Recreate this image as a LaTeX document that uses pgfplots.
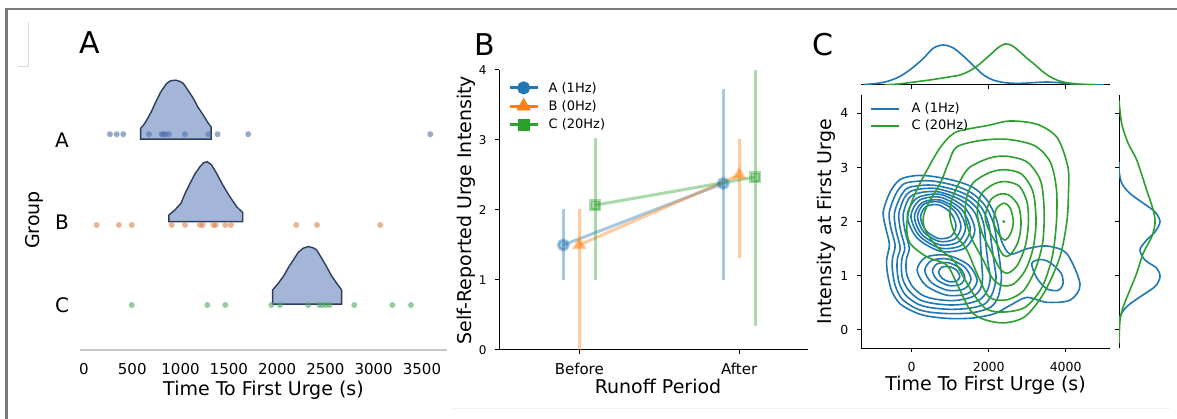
\documentclass[border=0pt]{standalone}
\usepackage{fontspec}
\setmainfont{DejaVu Sans}
\usepackage{pgfplots}
\pgfplotsset{compat=1.18}

\definecolor{tabblue}{HTML}{1F77B4}
\definecolor{taborange}{HTML}{FF7F0E}
\definecolor{tabgreen}{HTML}{2CA02C}
\definecolor{sbblue}{HTML}{4C72B0}
\definecolor{sborange}{HTML}{DD8452}
\definecolor{sbgreen}{HTML}{55A868}
\definecolor{violinfill}{HTML}{A3B6D8}
\definecolor{violinedge}{HTML}{2E3D5C}
\definecolor{framegray}{HTML}{7A7A7A}

\tikzset{lbl/.style={font=\fontsize{19}{23}\selectfont}}
\pgfplotsset{
  panel/.style={scale only axis, anchor=south west, axis line style={-},
    scaled ticks=false,
    /pgf/number format/1000 sep={}, /pgf/number format/assume math mode=true},
  cb/.style={tabblue, line width=1.6pt, smooth cycle, forget plot, mark=none},
  cg/.style={tabgreen, line width=1.6pt, smooth cycle, forget plot, mark=none},
  dots/.style={only marks, mark=*, mark size=3pt, color=#1,
    mark options={draw opacity=0, fill=#1, fill opacity=0.6}},
  violin/.style={draw=violinedge, fill=violinfill, line width=1.4pt},
}

\begin{document}
\begin{tikzpicture}
\useasboundingbox (0pt,0pt) rectangle (1177pt,419pt);
\fill[white] (0pt,0pt) rectangle (1177pt,419pt);

% ---------------- panel A
\begin{axis}[panel, at={(80pt,69pt)}, width=367pt, height=260pt,
  xmin=-41, xmax=3759, ymin=-0.545, ymax=2.606, clip=false,
  axis x line*=bottom, axis y line*=left,
  x axis line style={black!22, line width=1.3pt},
  y axis line style={draw=none},
  major tick length=0pt,
  xtick={0,500,...,3500}, ytick={0,1,2}, yticklabels={C,B,A},
  xticklabel style={font=\fontsize{15}{18}\selectfont, anchor=center, yshift=-19pt},
  yticklabel style={font=\fontsize{20}{24}\selectfont, anchor=center, xshift=-18pt},
  xlabel={Time To First Urge (s)}, ylabel={Group},
  xlabel style={lbl, at={(axis description cs:0.5,-0.1538)}, anchor=center},
  ylabel style={lbl, at={(axis description cs:-0.1240,0.5)}, anchor=center},
]
\addplot[violin] coordinates {(587,2.01) (587,2.14) (620,2.186) (649,2.24) (700,2.349) (752,2.483) (800,2.592) (856,2.685) (900,2.719) (953,2.725) (1000,2.707) (1029,2.685) (1080,2.598) (1133,2.503) (1180,2.398) (1236,2.301) (1280,2.216) (1316,2.159) (1316,2.01)} -- cycle;
\addplot[violin] coordinates {(880,1.01) (880,1.091) (940,1.15) (1004,1.232) (1050,1.36) (1098,1.474) (1150,1.59) (1201,1.677) (1240,1.725) (1277,1.737) (1320,1.70) (1374,1.595) (1430,1.47) (1478,1.374) (1530,1.28) (1581,1.192) (1644,1.119) (1644,1.01)} -- cycle;
\addplot[violin] coordinates {(1954,0.01) (1954,0.183) (2010,0.26) (2064,0.345) (2120,0.46) (2168,0.547) (2220,0.64) (2271,0.689) (2323,0.708) (2370,0.695) (2409,0.668) (2460,0.57) (2512,0.466) (2560,0.36) (2616,0.265) (2668,0.183) (2668,0.01)} -- cycle;
\addplot[dots=sbblue] coordinates {(269,2.07) (339,2.07) (407,2.07) (673,2.07) (805,2.07) (821,2.07) (846,2.07) (880,2.07) (1046,2.07) (1287,2.07) (1384,2.07) (1701,2.07) (3586,2.07)};
\addplot[dots=sborange] coordinates {(131,0.97) (362,0.97) (494,0.97) (908,0.97) (1046,0.97) (1201,0.97) (1229,0.97) (1339,0.97) (1364,0.97) (1463,0.97) (1522,0.97) (2198,0.97) (2413,0.97) (3068,0.97)};
\addplot[dots=sbgreen] coordinates {(494,0) (1277,0) (1463,0) (1940,0) (2030,0) (2323,0) (2437,0) (2468,0) (2506,0) (2544,0) (2799,0) (3193,0) (3386,0)};
\end{axis}

% ---------------- panel B
\begin{axis}[panel, at={(499.3pt,69pt)}, width=308.7pt, height=280pt,
  xmin=-0.5, xmax=1.43, ymin=0, ymax=4, clip=false,
  axis x line*=bottom, axis y line*=left, axis line style={line width=1pt},
  tick align=outside, major tick length=4pt, tick style={black, line width=1pt},
  xtick={0,1}, xticklabels={Before,After}, ytick={0,1,2,3,4},
  xticklabel style={font=\fontsize{15}{18}\selectfont, anchor=center, yshift=-15pt},
  yticklabel style={font=\fontsize{12}{14}\selectfont, anchor=center, xshift=-12.6pt},
  xlabel={Runoff Period}, ylabel={Self-Reported Urge Intensity},
  xlabel style={lbl, at={(axis description cs:0.514,-0.131)}, anchor=center},
  ylabel style={lbl, at={(axis description cs:-0.1056,0.5)}, anchor=center},
  legend style={draw=none, fill=none, at={(rel axis cs:0.028,0.9625)}, anchor=north west,
    font=\fontsize{13}{15}\selectfont, row sep=4pt, inner sep=0pt, nodes={inner sep=1.5pt}},
  legend cell align=left,
  legend image code/.code={\draw[mark repeat=2,mark phase=2,#1] plot coordinates {(0pt,0pt) (14pt,0pt) (28pt,0pt)};},
  legend image post style={opacity=1},
  /tikz/every odd column/.append style={column sep=8pt},
]
\addplot[tabblue, line width=3pt, opacity=0.4, mark=*, mark size=5pt,
  error bars/.cd, y dir=both, y explicit, error mark=none,
  error bar style={line width=3pt, tabblue, opacity=0.4}]
  coordinates {(-0.1,1.5) += (0,0.52) -= (0,0.5) (0.9,2.38) += (0,1.35) -= (0,1.38)};
\addlegendentry{A (1Hz)}
\addplot[taborange, line width=3pt, opacity=0.4, mark=triangle*, mark size=5.5pt,
  error bars/.cd, y dir=both, y explicit, error mark=none,
  error bar style={line width=3pt, taborange, opacity=0.4}]
  coordinates {(0,1.5) += (0,0.52) -= (0,1.5) (1,2.5) += (0,0.52) -= (0,1.19)};
\addlegendentry{B (0Hz)}
\addplot[tabgreen, line width=3pt, opacity=0.4, mark=square*, mark size=4.5pt,
  error bars/.cd, y dir=both, y explicit, error mark=none,
  error bar style={line width=3pt, tabgreen, opacity=0.4}]
  coordinates {(0.1,2.07) += (0,0.96) -= (0,1.07) (1.1,2.47) += (0,1.53) -= (0,2.13)};
\addlegendentry{C (20Hz)}
\end{axis}

% ---------------- panel C, joint plot
\begin{axis}[panel, at={(861pt,70.7pt)}, width=249pt, height=253.3pt,
  xmin=-1317, xmax=5151, ymin=-0.34, ymax=4.34,
  axis x line*=bottom, axis y line*=left, axis line style={line width=1pt},
  tick align=outside, major tick length=4pt, tick style={black, line width=1pt},
  xtick={0,2000,4000}, ytick={0,1,2,3,4},
  xticklabel style={font=\fontsize{12.5}{15}\selectfont, anchor=center, yshift=-15pt},
  yticklabel style={font=\fontsize{12.5}{15}\selectfont, anchor=center, xshift=-12.7pt},
  xlabel={Time To First Urge (s)}, ylabel={Intensity at First Urge},
  xlabel style={lbl, at={(axis description cs:0.5,-0.1449)}, anchor=center},
  ylabel style={lbl, at={(axis description cs:-0.1378,0.5)}, anchor=center},
  legend style={draw=none, fill=none, at={(rel axis cs:0.036,0.9755)}, anchor=north west,
    font=\fontsize{13}{15}\selectfont, row sep=2.7pt, inner sep=0pt, nodes={inner sep=1.5pt}},
  legend cell align=left,
  legend image code/.code={\draw[#1] (0pt,0pt) -- (28pt,0pt);},
  /tikz/every odd column/.append style={column sep=10pt},
]
\addlegendimage{tabblue, line width=2pt}
\addlegendentry{A (1Hz)}
\addlegendimage{tabgreen, line width=2pt}
\addlegendentry{C (20Hz)}
% group A density contours
\addplot[cb] coordinates {(-740,2.18) (-560,2.55) (-300,2.78) (100,2.85) (500,2.84) (1100,2.76) (1600,2.63) (1950,2.4) (2200,2.05) (2330,1.65) (2555,1.40) (3000,1.50) (3507,1.55) (4027,1.41) (4373,0.84) (4113,0.55) (3507,0.51) (2988,0.60) (2550,0.45) (2150,0.30) (1600,0.22) (1000,0.21) (450,0.25) (100,0.32) (-300,0.48) (-520,0.72) (-630,1.05) (-650,1.30) (-580,1.58) (-680,1.9)};
\addplot[cb] coordinates {(3118,1.23) (3350,1.30) (3600,1.24) (3880,1.05) (3930,0.85) (3800,0.73) (3507,0.76) (3250,0.96)};
\addplot[cb] coordinates {(-585,2.16) (-420,2.5) (-200,2.70) (200,2.75) (550,2.75) (1100,2.67) (1560,2.53) (1900,2.3) (2120,1.98) (2230,1.55) (2300,1.2) (2330,0.95) (2250,0.62) (2050,0.42) (1600,0.32) (1000,0.30) (450,0.33) (100,0.40) (-250,0.57) (-430,0.82) (-500,1.1) (-500,1.32) (-430,1.56) (-540,1.88)};
\addplot[cb] coordinates {(-450,2.15) (-300,2.45) (-110,2.62) (250,2.67) (600,2.67) (1100,2.59) (1520,2.46) (1820,2.25) (2000,1.95) (2080,1.55) (2150,1.2) (2190,0.95) (2100,0.68) (1900,0.48) (1500,0.40) (1000,0.38) (500,0.41) (150,0.48) (-170,0.65) (-330,0.88) (-380,1.12) (-370,1.32) (-300,1.52) (-410,1.85)};
\addplot[cb] coordinates {(-335,2.14) (-200,2.43) (-30,2.56) (300,2.61) (650,2.61) (1100,2.52) (1480,2.39) (1740,2.2) (1880,1.92) (1930,1.55) (1990,1.2) (2040,0.95) (1960,0.72) (1770,0.56) (1400,0.48) (1000,0.46) (550,0.49) (200,0.56) (-80,0.73) (-230,0.93) (-270,1.14) (-250,1.33) (-180,1.52) (-290,1.84)};
\addplot[cb] coordinates {(-225,2.12) (-100,2.40) (50,2.50) (350,2.55) (700,2.55) (1100,2.46) (1430,2.33) (1650,2.15) (1760,1.9) (1790,1.55) (1820,1.2) (1840,0.95) (1780,0.75) (1600,0.62) (1300,0.56) (1000,0.54) (600,0.57) (280,0.64) (20,0.80) (-120,1.0) (-150,1.16) (-130,1.34) (-60,1.50) (-170,1.82)};
\addplot[cb] coordinates {(-115,2.105) (142,2.438) (762,2.50) (1382,2.254) (1640,1.845) (1382,1.512) (762,1.45) (142,1.696)};
\addplot[cb] coordinates {(-20,2.10) (206,2.397) (750,2.45) (1294,2.227) (1520,1.86) (1294,1.563) (750,1.51) (206,1.733)};
\addplot[cb] coordinates {(70,2.085) (265,2.349) (735,2.40) (1205,2.207) (1400,1.885) (1205,1.621) (735,1.57) (265,1.763)};
\addplot[cb] coordinates {(150,2.09) (316,2.322) (715,2.365) (1114,2.194) (1280,1.91) (1114,1.678) (715,1.635) (316,1.806)};
\addplot[cb] coordinates {(230,2.08) (365,2.276) (690,2.31) (1015,2.162) (1150,1.92) (1015,1.724) (690,1.69) (365,1.838)};
\addplot[cb] coordinates {(140,1.11) (369,1.343) (920,1.38) (1471,1.201) (1700,0.91) (1471,0.677) (920,0.64) (369,0.819)};
\addplot[cb] coordinates {(340,1.10) (516,1.282) (940,1.31) (1364,1.168) (1540,0.94) (1364,0.758) (940,0.73) (516,0.872)};
\addplot[cb] coordinates {(540,1.09) (663,1.22) (960,1.24) (1257,1.136) (1380,0.97) (1257,0.840) (960,0.82) (663,0.924)};
\addplot[cb] coordinates {(700,1.07) (781,1.157) (975,1.17) (1169,1.101) (1250,0.99) (1169,0.903) (975,0.89) (781,0.959)};
% group C density contours
\addplot[cg] coordinates {(1250,3.68) (2000,3.78) (2550,3.86) (3250,3.8) (3780,3.55) (4060,3.0) (4070,2.5) (4030,2.0) (3850,1.35) (3450,0.7) (2950,0.25) (2400,0.13) (1850,0.2) (1515,0.37) (1169,0.86) (909,1.2) (390,1.35) (-43,1.60) (-130,1.91) (-43,2.28) (217,2.71) (693,3.32) (1000,3.58)};
\addplot[cg] coordinates {(1169,3.38) (1800,3.5) (2500,3.52) (3200,3.4) (3600,3.1) (3760,2.6) (3760,2.0) (3650,1.35) (3380,0.78) (2950,0.42) (2400,0.33) (1950,0.38) (1645,0.62) (1342,0.98) (1083,1.29) (650,1.54) (346,1.85) (303,2.09) (433,2.34) (736,2.7) (953,3.08)};
\addplot[cg] coordinates {(1500,3.0) (2000,3.17) (2450,3.21) (3000,3.1) (3350,2.75) (3440,2.2) (3400,1.6) (3200,1.1) (2900,0.72) (2500,0.56) (2150,0.56) (1948,0.66) (1689,1.05) (1429,1.48) (1126,1.78) (996,2.09) (1039,2.4) (1256,2.75)};
\addplot[cg] coordinates {(1600,2.72) (2000,2.9) (2400,2.96) (2850,2.88) (3150,2.55) (3230,2.0) (3150,1.5) (2950,1.1) (2650,0.85) (2350,0.82) (2100,0.95) (1850,1.3) (1550,1.7) (1390,2.1) (1430,2.45)};
\addplot[cg] coordinates {(1850,2.55) (2150,2.70) (2450,2.74) (2800,2.65) (3000,2.35) (3030,1.95) (2950,1.55) (2750,1.2) (2500,1.05) (2300,1.12) (2100,1.4) (1850,1.75) (1710,2.1) (1740,2.38)};
\addplot[cg] coordinates {(2050,2.4) (2300,2.51) (2550,2.48) (2780,2.28) (2840,1.95) (2760,1.62) (2550,1.38) (2380,1.38) (2200,1.6) (2000,1.85) (1910,2.1)};
\addplot[cg] coordinates {(2200,2.24) (2400,2.34) (2560,2.25) (2640,2.0) (2570,1.78) (2420,1.66) (2250,1.78) (2130,2.0)};
\addplot[only marks, mark=*, mark size=1.2pt, tabgreen, forget plot] coordinates {(2390,2.0)};
\end{axis}

% top marginal
\begin{axis}[panel, at={(861pt,334pt)}, width=249pt, height=45pt,
  xmin=-1317, xmax=5151, ymin=0, ymax=45,
  axis x line*=bottom, axis y line=none, axis line style={line width=1pt},
  tick align=outside, major tick length=4pt, tick style={black, line width=1pt},
  xtick={0,2000,4000}, xticklabels={}, ytick=\empty]
\addplot[tabblue, line width=1.6pt, smooth] coordinates {(-1250,0.4) (-900,1.6) (-600,4.0) (-300,8.7) (0,16.5) (300,26.5) (560,36.8) (820,40) (1080,37) (1340,29) (1600,19.5) (1850,10.5) (2100,5.2) (2400,2.4) (2750,1.6) (3100,2.2) (3500,3.0) (3850,2.2) (4200,0.9) (4600,0.3) (5000,0.1)};
\addplot[tabgreen, line width=1.6pt, smooth] coordinates {(-700,0) (-300,1.2) (130,3.3) (500,5.2) (900,7.6) (1254,10) (1500,14) (1750,20.5) (2033,30) (2250,37.5) (2423,41) (2600,39.5) (2800,33.5) (3000,26.5) (3158,21.7) (3400,13.5) (3592,8.3) (3800,4.5) (4025,2.3) (4400,0.7) (4800,0.1)};
\end{axis}

% right marginal
\begin{axis}[panel, at={(1119pt,70.7pt)}, width=45pt, height=253.3pt,
  xmin=0, xmax=45, ymin=-0.34, ymax=4.34,
  axis y line*=left, axis x line=none, axis line style={line width=1pt},
  tick align=outside, major tick length=4pt, tick style={black, line width=1pt},
  ytick={0,1,2,3,4}, yticklabels={}, xtick=\empty]
\addplot[tabblue, line width=1.6pt, smooth] coordinates {(0.3,3.1) (0,2.95) (2.7,2.71) (11,2.52) (24.3,2.34) (36,2.18) (41,2.0) (36,1.81) (27.7,1.66) (21,1.48) (26,1.29) (37.7,1.14) (41,0.98) (36,0.8) (21,0.61) (7.7,0.43) (1,0.25) (0,0.06)};
\addplot[tabgreen, line width=1.6pt, smooth] coordinates {(0,4.24) (2.7,3.81) (9.3,3.44) (17.7,3.14) (27.7,2.58) (34.3,2.21) (36,1.97) (32.7,1.72) (24.3,1.42) (17.7,1.05) (11,0.74) (4.3,0.43) (1,0.18) (0,-0.25)};
\end{axis}

% panel letters and frame
\node[font=\fontsize{30}{36}\selectfont] at (90pt,376pt) {A};
\node[font=\fontsize{30}{36}\selectfont] at (485pt,374pt) {B};
\node[font=\fontsize{30}{36}\selectfont] at (823pt,374pt) {C};
\draw[framegray, line width=2.5pt] (6.5pt,0pt) -- (6.5pt,410pt) -- (1177pt,410pt);
\draw[black!15, line width=0.8pt] (28.3pt,397.3pt) -- (28.3pt,353pt) -- (18.3pt,353pt);
\draw[black!6, line width=0.8pt] (453pt,11pt) -- (1170pt,11pt);
\end{tikzpicture}
\end{document}
